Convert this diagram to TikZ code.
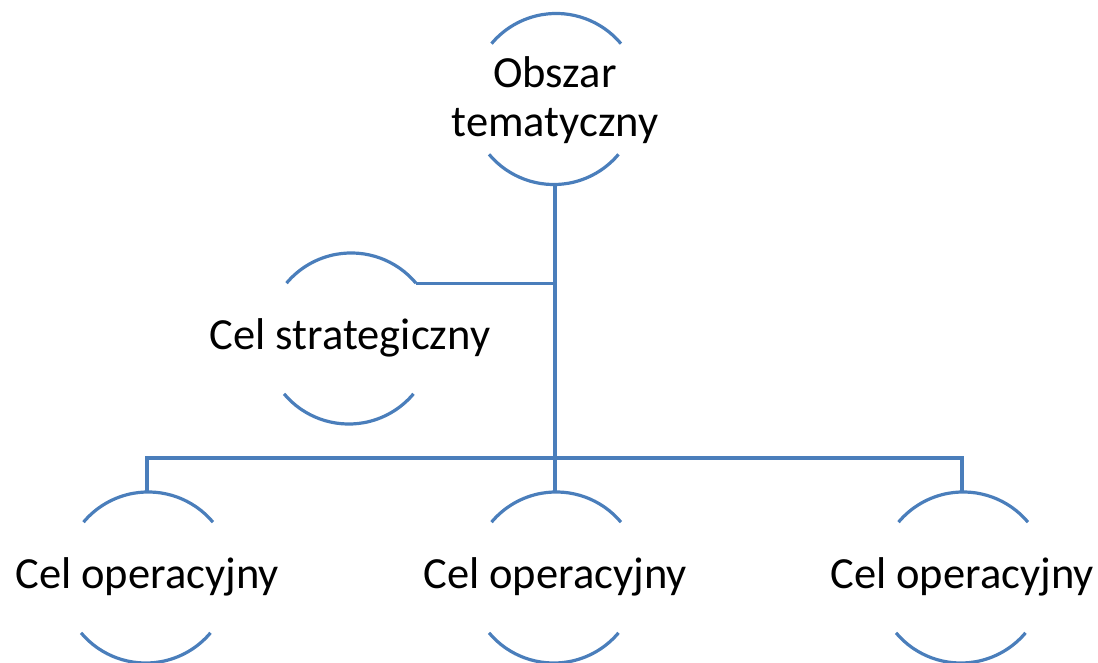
\documentclass[tikz,border=0pt]{standalone}
\usepackage{fontspec}
\setmainfont{Carlito}
\usetikzlibrary{positioning}
\definecolor{linkblue}{HTML}{4A7EBB}

\begin{document}
\begin{tikzpicture}
	[x=1pt, y=1pt, on grid, line width=3.2pt, draw=linkblue,
	 goal/.style={circle, inner sep=0pt, minimum size=169pt},
	 txt/.style={font=\fontsize{44.5}{49}\selectfont, align=center, anchor=base, inner sep=0pt}]
   \useasboundingbox (0,0) rectangle (1098,662);
   \node[goal] (area) at (555,563) {};
   \node[goal] (strat) [below left=239.5pt and 205pt of area] {};
   \node[goal] (op2) [below=478.5pt of area] {};
   \node[goal] (op1) [left=408pt of op2] {};
   \node[goal] (op3) [right=407pt of op2] {};
   % broken rings round the texts
   \foreach \n in {area,strat,op1,op2,op3} {
     \draw[linkblue] (\n.40) arc[start angle=40, end angle=140, radius=84.5pt];
     \draw[linkblue] (\n.220) arc[start angle=220, end angle=320, radius=84.5pt];
   }
   \node[txt] (area-t) at ([yshift=-38pt]area.center) {Obszar\\tematyczny};
   \node[txt] (strat-t) at ([yshift=-11pt]strat.center) {Cel strategiczny};
   \node[txt] (op1-t) at ([yshift=-11pt]op1.center) {Cel operacyjny};
   \node[txt] (op2-t) at ([yshift=-11pt]op2.center) {Cel operacyjny};
   \node[txt] (op3-t) at ([yshift=-11pt]op3.center) {Cel operacyjny};
   % tree lines
   \coordinate (hub) at (area.south |- 0,204);
   \draw[linkblue] (area.south) -- (op2.north);
   \draw[linkblue] (strat.40) -- (strat.40 -| area.south);
   \draw[linkblue] (op1.north) |- (hub) -| (op3.north);
\end{tikzpicture}
\end{document}
